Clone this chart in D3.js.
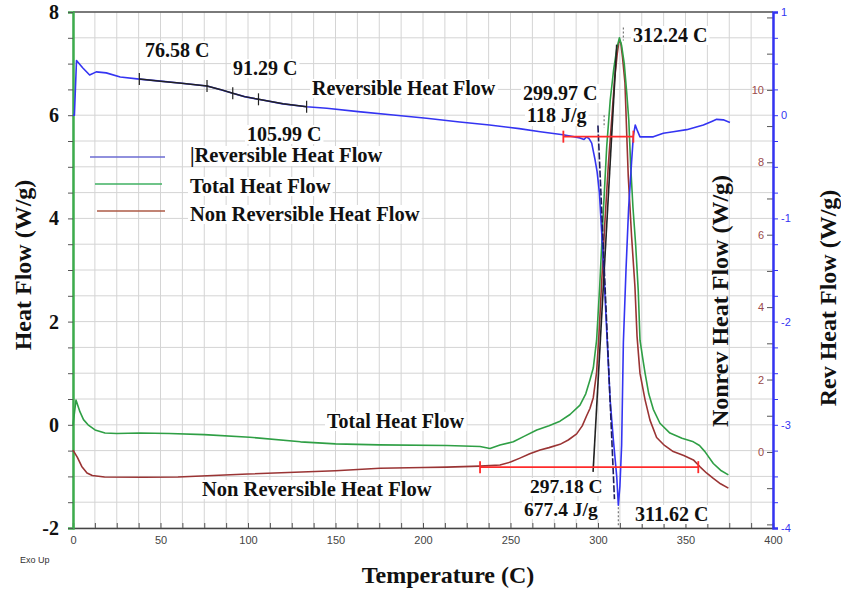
<!DOCTYPE html>
<html>
<head>
<meta charset="utf-8">
<script src="https://cdn.jsdelivr.net/npm/d3@7"></script>
<style>
  body { margin: 0; background: #fff; }
  svg { display: block; }
</style>
</head>
<body>
<svg id="chart" width="841" height="592"></svg>
<script>
// ---- Modulated DSC run: temperature (°C) vs. heat flow signals ----

// Reversible heat flow (W/g, right blue axis)
const revTemp = [0, 0.8, 2.0, 5.5, 9.5, 13.3, 19, 27, 37.9, 50, 62, 76.58, 84, 91.29, 98, 105.99, 120, 133.5,
  145, 163, 183, 202, 221, 238, 255, 267, 280, 289.7, 292, 293.5, 295, 296.4, 298.3, 299.5, 300.8, 303, 305,
  306.9, 308.8, 310.7, 311.62, 312.5, 313.5, 314.5, 316, 317.5, 319.2, 320.2, 321.3, 322.5, 324, 331.6, 337.3,
  343, 350.7, 360.2, 365, 367.8, 371.6, 375.4];
const revFlow = [0, 0, 0.53, 0.46, 0.39, 0.42, 0.41, 0.37, 0.35, 0.33, 0.31, 0.283, 0.25, 0.212, 0.18, 0.154, 0.11, 0.082,
  0.067, 0.035, 0.002, -0.03, -0.066, -0.095, -0.13, -0.16, -0.19, -0.22, -0.235, -0.21, -0.23, -0.27, -0.43, -0.55,
  -0.75, -1.4, -2.1, -2.75, -3.15, -3.5, -3.78, -3.6, -3.2, -2.2, -1.5, -0.9, -0.45, -0.2, -0.095, -0.15, -0.21, -0.21,
  -0.175, -0.16, -0.14, -0.095, -0.06, -0.04, -0.045, -0.07];

// Total heat flow (W/g, left axis)
const totTemp = [0, 1.7, 4, 6, 8.6, 12.6, 18.3, 25, 38, 55, 75, 101, 130, 150, 175, 213.5, 232.6, 238.3, 244, 251.6,
  258, 265, 272, 278.3, 284, 289.7, 293, 295.4, 297.3, 299.2, 301, 303, 305, 307, 309, 310.8, 312.24, 313.5, 315,
  316.5, 317.6, 318.7, 320, 321.5, 323, 324, 325.5, 326.9, 329, 331.6, 335.4, 341.1, 348, 354.5, 358, 361.1, 365.9,
  370, 374.5];
const totFlow = [0, 0.48, 0.25, 0.1, 0, -0.1, -0.16, -0.17, -0.16, -0.17, -0.19, -0.24, -0.33, -0.37, -0.39, -0.4, -0.42,
  -0.46, -0.39, -0.33, -0.22, -0.1, -0.02, 0.07, 0.2, 0.38, 0.6, 0.87, 1.1, 1.64, 2.7, 4.1, 5.4, 6.3, 6.9, 7.3, 7.5,
  7.35, 7.0, 6.4, 5.9, 5.0, 4.2, 3.5, 2.6, 1.64, 1.3, 1.0, 0.6, 0.3, 0.03, -0.16, -0.26, -0.33, -0.4, -0.52, -0.75,
  -0.88, -0.97];

// Non-reversible heat flow (W/g, right brown axis)
const nonTemp = [0, 2.5, 5, 8, 11, 18, 40, 60, 100, 150, 175.4, 200, 213.5, 232.6, 244, 250, 255.4, 261, 266.9, 272,
  278.3, 283, 287.8, 291, 293.5, 295.4, 297.3, 299.2, 300.5, 302, 304, 306, 308, 309.5, 311, 312, 313, 314, 315.4,
  316.4, 317.3, 319.2, 321.1, 322.3, 324, 326.9, 329.7, 333.5, 338, 343, 349, 354.5, 358.3, 362, 365.9, 370, 374.5];
const nonFlow = [0.05, -0.15, -0.4, -0.58, -0.65, -0.69, -0.7, -0.69, -0.61, -0.52, -0.45, -0.43, -0.42, -0.39, -0.36,
  -0.28, -0.17, -0.05, 0.055, 0.12, 0.21, 0.33, 0.5, 0.72, 1.0, 1.2, 1.5, 2.2, 3.2, 4.6, 6.4, 8.0, 9.3, 10.3, 11.0,
  11.35, 11.3, 10.9, 10.2, 8.8, 7.6, 5.95, 4.57, 3.2, 2.17, 1.44, 0.88, 0.4, 0.18, 0.01, -0.1, -0.22, -0.41, -0.58,
  -0.73, -0.88, -1.0];

// Glass-transition analysis on the reversible signal (onset / mid / end markers)
const tgMarks = [37.9, 76.58, 91.29, 105.99, 133.5];
// Peak integration baselines: [startT, endT, level]
const revBaseline = [280.2, 320.2, -0.208];   // reversible, 118 J/g
const nonBaseline = [232.6, 357.3, -0.42];    // non-reversible, 677.4 J/g
// Onset tangents: [[T, value], [T, value]]
const nonTangent = [[297.18, -0.55], [310.7, 11.25]];
const revTangent = [[299.97, -0.1], [309.4, -3.72]];

// Axis tick values
const tempTicks = d3.range(0, 400.01, 12.5);
const hfTicks = d3.range(-2, 8.01, 0.5);
const revTicks = d3.range(-4, 1.01, 0.25);
const nonTicks = d3.range(-2, 12.01, 1);
const nonLabels = [0, 2, 4, 6, 8, 10];

// ---- layout ----
const svg = d3.select("#chart");
const L = 73, R = 773, T = 12, B = 528;
const x = d3.scaleLinear([0, 400], [L, R]);
const yHF = d3.scaleLinear([-2, 8], [B, T]);
const yRev = d3.scaleLinear([-4, 1], [B, T]);
const yNon = d3.scaleLinear([-2.1, 12.15], [B, T]);

const serif = "'Liberation Serif', 'Times New Roman', serif";
const sans = "'Liberation Sans', Arial, sans-serif";

const C = {
  grid: "#d4d4d4", blue: "#3434f2", green: "#2f9f45", brown: "#9a3434",
  red: "#ff2b2b", black: "#222", brownText: "#9a4a4a"
};

// grid
const grid = svg.append("g");
grid.selectAll("line.v").data(tempTicks).join("line")
  .attr("x1", d => x(d)).attr("x2", d => x(d)).attr("y1", T).attr("y2", B)
  .attr("stroke", C.grid).attr("stroke-width", 1);
grid.selectAll("line.h").data(hfTicks).join("line")
  .attr("x1", L).attr("x2", R).attr("y1", d => yHF(d)).attr("y2", d => yHF(d))
  .attr("stroke", C.grid).attr("stroke-width", 1);

// top frame
svg.append("line").attr("x1", L).attr("x2", R).attr("y1", T).attr("y2", T)
  .attr("stroke", "#555").attr("stroke-width", 1.5);

// bottom axis
const xAxis = svg.append("g").attr("transform", `translate(0,${B})`)
  .call(d3.axisBottom(x).tickValues(tempTicks).tickSize(-5).tickPadding(8)
    .tickFormat(d => d % 50 === 0 ? d : ""));
xAxis.select(".domain").attr("stroke", "#444").attr("stroke-width", 1.5);
xAxis.selectAll(".tick line").attr("stroke", "#555");
xAxis.selectAll("text").attr("font-family", sans).attr("font-size", 11).attr("fill", "#444");

// left axis (heat flow)
const yAxis = svg.append("g").attr("transform", `translate(${L},0)`)
  .call(d3.axisLeft(yHF).tickValues(hfTicks).tickSize(5).tickPadding(9)
    .tickFormat(d => d % 2 === 0 ? d : ""));
yAxis.select(".domain").attr("stroke", "#3dac4c").attr("stroke-width", 2.5);
yAxis.selectAll(".tick line").attr("stroke", "#555");
yAxis.selectAll("text").attr("font-family", serif).attr("font-weight", "bold")
  .attr("font-size", 20).attr("fill", "#111");

// right axis, non-reversible scale (labels sit inside the plot)
const nAxis = svg.append("g").attr("transform", `translate(${R},0)`)
  .call(d3.axisLeft(yNon).tickValues(nonTicks).tickSize(6).tickPadding(3)
    .tickFormat(d => nonLabels.includes(d) ? d : ""));
nAxis.select(".domain").remove();
nAxis.selectAll(".tick line").attr("stroke", "#555");
nAxis.selectAll("text").attr("font-family", sans).attr("font-size", 11).attr("fill", C.brownText);

// right axis, reversible scale
const rAxis = svg.append("g").attr("transform", `translate(${R},0)`)
  .call(d3.axisRight(yRev).tickValues(revTicks).tickSize(5).tickPadding(3)
    .tickFormat(d => Number.isInteger(d) ? d : ""));
rAxis.select(".domain").attr("stroke", C.blue).attr("stroke-width", 2.5);
rAxis.selectAll(".tick line").attr("stroke", C.blue);
rAxis.selectAll("text").attr("font-family", sans).attr("font-size", 11).attr("fill", C.blue);

// ---- curves ----
const zip = (a, b) => a.map((t, i) => [t, b[i]]);
const revData = zip(revTemp, revFlow);
const totData = zip(totTemp, totFlow);
const nonData = zip(nonTemp, nonFlow);

const lineOf = ys => d3.line().x(d => x(d[0])).y(d => ys(d[1]));

const curves = svg.append("g").attr("fill", "none").attr("stroke-linejoin", "round");
curves.append("path").attr("d", lineOf(yNon)(nonData)).attr("stroke", C.brown).attr("stroke-width", 1.6);
curves.append("path").attr("d", lineOf(yHF)(totData)).attr("stroke", C.green).attr("stroke-width", 1.6);
curves.append("path").attr("d", lineOf(yRev)(revData)).attr("stroke", C.blue).attr("stroke-width", 1.6);

// glass transition segment in black with markers
const tgSeg = revData.filter(d => d[0] >= tgMarks[0] && d[0] <= tgMarks[tgMarks.length - 1]);
curves.append("path").attr("d", lineOf(yRev)(tgSeg)).attr("stroke", C.black).attr("stroke-width", 1.5);
curves.selectAll("line.tg").data(tgMarks).join("line")
  .attr("x1", d => x(d)).attr("x2", d => x(d))
  .attr("y1", d => yRev(revFlow[revTemp.indexOf(d)]) - 6)
  .attr("y2", d => yRev(revFlow[revTemp.indexOf(d)]) + 6)
  .attr("stroke", C.black).attr("stroke-width", 1.2);

// onset tangents
curves.append("path").attr("d", lineOf(yNon)(nonTangent)).attr("stroke", C.black).attr("stroke-width", 1.6);
curves.append("path").attr("d", lineOf(yRev)(revTangent)).attr("stroke", "#1c1c5a").attr("stroke-width", 1.6)
  .attr("stroke-dasharray", "7,2");

// integration baselines
function baseline(b, ys) {
  const g = curves.append("g").attr("stroke", C.red).attr("stroke-width", 1.8);
  g.append("line").attr("x1", x(b[0])).attr("x2", x(b[1])).attr("y1", ys(b[2])).attr("y2", ys(b[2]));
  [b[0], b[1]].forEach(t => g.append("line").attr("x1", x(t)).attr("x2", x(t))
    .attr("y1", ys(b[2]) - 6).attr("y2", ys(b[2]) + 6));
}
baseline(revBaseline, yRev);
baseline(nonBaseline, yNon);

// small dotted leaders next to peak labels
const leaders = [[314.5, 7.7, 7.45, yHF], [303.5, -0.0, -0.12, yRev], [311.62, -3.8, -3.98, yRev]];
leaders.forEach(([t, a, b, ys]) => curves.append("line")
  .attr("x1", x(t)).attr("x2", x(t)).attr("y1", ys(a)).attr("y2", ys(b))
  .attr("stroke", "#777").attr("stroke-width", 1.2).attr("stroke-dasharray", "2,2"));

// ---- text labels with white boxes ----
function label(txt, px, py, size = 20) {
  const g = svg.append("g");
  const rect = g.append("rect").attr("fill", "#fff");
  const t = g.append("text").attr("x", px).attr("y", py).text(txt)
    .attr("font-family", serif).attr("font-weight", "bold").attr("font-size", size).attr("fill", "#111");
  const bb = t.node().getBBox();
  rect.attr("x", bb.x - 2).attr("y", bb.y + 2).attr("width", bb.width + 4).attr("height", bb.height - 3);
  return g;
}
label("76.58 C", 145, 57);
label("91.29 C", 233, 75);
label("Reversible Heat Flow", 312, 95);
label("105.99 C", 247, 141);
label("299.97 C", 523, 100);
label("118 J/g", 527, 122);
label("312.24 C", 633, 42);
label("Total Heat Flow", 327, 428);
label("Non Reversible Heat Flow", 202, 496, 20.5);
label("297.18 C", 530, 493, 19.5);
label("677.4 J/g", 524, 516, 19.5);
label("311.62 C", 635, 521);

// legend
const legendItems = [
  { name: "|Reversible Heat Flow", color: "#6b6bd2", x1: 90, x2: 165, y: 157, ty: 162 },
  { name: "Total Heat Flow", color: "#3fb062", x1: 95, x2: 162, y: 184, ty: 193 },
  { name: "Non Reversible Heat Flow", color: "#ad5a46", x1: 97, x2: 165, y: 211, ty: 221 }
];
legendItems.forEach(d => {
  svg.append("line").attr("x1", d.x1).attr("x2", d.x2).attr("y1", d.y).attr("y2", d.y)
    .attr("stroke", d.color).attr("stroke-width", 1.6);
  label(d.name, 190, d.ty, 20.5);
});

// axis titles
const title = (txt, tr, anchorX, anchorY) => svg.append("text")
  .attr("transform", tr).attr("text-anchor", "middle")
  .attr("font-family", serif).attr("font-weight", "bold").attr("font-size", 24).attr("fill", "#111")
  .text(txt);
title("Heat Flow (W/g)", "translate(31,265) rotate(-90)");
title("Nonrev Heat Flow (W/g)", "translate(728,301) rotate(-90)");
title("Rev Heat Flow (W/g)", "translate(836,298) rotate(-90)");
title("Temperature (C)", "translate(448,583)");
svg.append("text").attr("x", 20).attr("y", 563)
  .attr("font-family", sans).attr("font-size", 9).attr("fill", "#333").text("Exo Up");
</script>
</body>
</html>
